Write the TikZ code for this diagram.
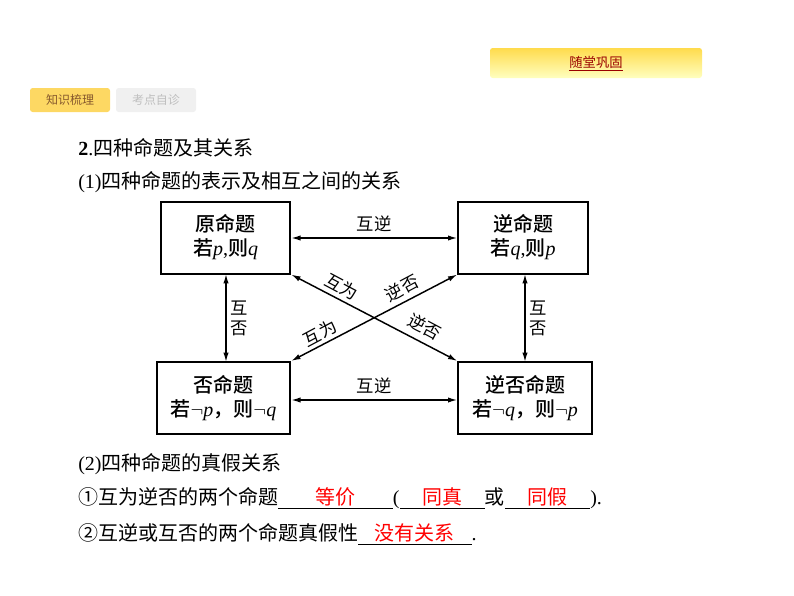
\documentclass[tikz,border=0pt]{standalone}
\usepackage{fontspec}
\setmainfont{Liberation Serif}
\newfontfamily\cjk{Noto Sans CJK SC}
\newfontfamily\cjkb{Noto Sans CJK SC Medium}
\usetikzlibrary{arrows.meta,positioning}
\newcommand{\blank}[2]{\underline{\makebox[#1]{\color{red}\cjk #2}}}
\tikzset{
  prop/.style={draw,line width=1.5pt,minimum width=#1,minimum height=54pt,align=center,font=\fontsize{15}{18}\selectfont,inner sep=1pt},
  rel/.style={line width=1.1pt,{Latex[length=7pt,width=4pt]}-{Latex[length=7pt,width=4pt]}},
  lab/.style={font=\cjk\fontsize{13}{15}\selectfont,align=center,inner sep=1pt},
  txt/.style={anchor=west,font=\fontsize{15}{18}\selectfont,inner sep=0pt}
}
\begin{document}
\begin{tikzpicture}[x=0.75pt,y=-0.75pt]
\useasboundingbox (0,0) rectangle (794,596);
%Tabs
\shade[top color=yellow!60!orange!70,bottom color=yellow!25,rounded corners=2pt] (490,48) rectangle (702,78);
\node[font=\cjk\fontsize{10}{12}\selectfont,text=red!60!black] (tabA) at (596,64) {\underline{随堂巩固}};
\fill[rounded corners=2pt,fill=yellow!55!orange!60] (30,88) rectangle (110,112);
\node[font=\cjk\fontsize{9}{11}\selectfont,text=brown!70!black] (tabB) at (70,100) {知识梳理};
\fill[rounded corners=2pt,fill=gray!12] (116,88) rectangle (196,112);
\node[font=\cjk\fontsize{9}{11}\selectfont,text=gray!50] (tabC) at (156,100) {考点自诊};
%Headings
\node[txt] (h1) at (78,148) {\textbf{2}.{\cjk 四种命题及其关系}};
\node[txt] (h2) at (78,182) {(1){\cjk 四种命题的表示及相互之间的关系}};
%Boxes
\node[prop=97pt] (orig) at (225.5,237.5) {{\cjkb 原命题}\\{\cjkb 若}\textit{p},{\cjkb 则}\textit{q}};
\node[prop=97pt] (conv) at (523,237.5) {{\cjkb 逆命题}\\{\cjkb 若}\textit{q},{\cjkb 则}\textit{p}};
\node[prop=100pt] (inv) at (223.5,398) {{\cjkb 否命题}\\{\cjkb 若}$\neg$\textit{p}{\cjkb ，则}$\neg$\textit{q}};
\node[prop=100pt] (contra) at (525,398) {{\cjkb 逆否命题}\\{\cjkb 若}$\neg$\textit{q}{\cjkb ，则}$\neg$\textit{p}};
%Arrows
\draw[rel] (orig.east |- 0,238) -- (conv.west |- 0,238) node[lab,midway,above=3pt] {互逆};
\draw[rel] (inv.east |- 0,400) -- (contra.west |- 0,400) node[lab,midway,above=3pt] {互逆};
\draw[rel] (226,274) -- (226,362) node[lab,midway,right=2pt] {互\\否};
\draw[rel] (525,274) -- (525,362) node[lab,midway,right=2pt] {互\\否};
\draw[rel] (orig.south east) -- (contra.north west);
\draw[rel] (conv.south west) -- (inv.north east);
\node[lab,rotate=-28] (l1) at (342,287) {互为};
\node[lab,rotate=28] (l2) at (402,288) {逆否};
\node[lab,rotate=28] (l3) at (320,333) {互为};
\node[lab,rotate=-28] (l4) at (425,327) {逆否};
%Truth relations
\node[txt] (h3) at (78,464) {(2){\cjk 四种命题的真假关系}};
\node[txt] (t1) at (78,498) {{\cjk ①互为逆否的两个命题}\blank{86pt}{等价}(\blank{64pt}{同真}{\cjk 或}\blank{64pt}{同假}).};
\node[txt] (t2) at (78,534) {{\cjk ②互逆或互否的两个命题真假性}\blank{85pt}{没有关系}.};
\end{tikzpicture}
\end{document}
